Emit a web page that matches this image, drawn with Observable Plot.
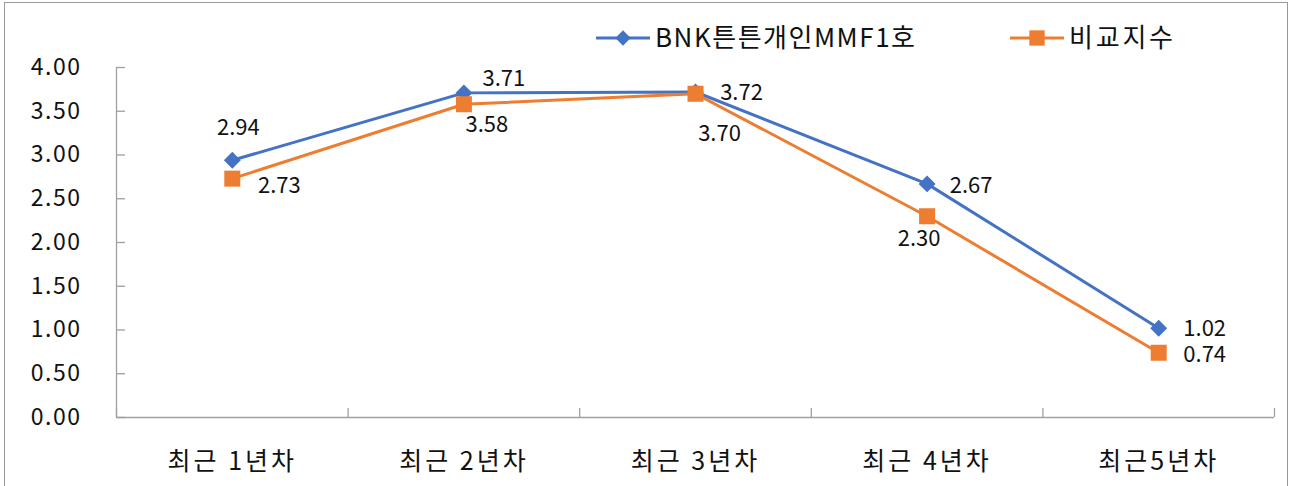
<!DOCTYPE html>
<html><head><meta charset="utf-8">
<script src="https://cdn.jsdelivr.net/npm/d3@7"></script>
<script src="https://cdn.jsdelivr.net/npm/@observablehq/plot@0.6"></script>
<style>
html,body{margin:0;padding:0;background:#fff;overflow:hidden}
#wrap{position:relative;width:1290px;height:486px;overflow:hidden;font-family:"Noto Sans CJK KR","Noto Sans",sans-serif}
#border{position:absolute;left:4px;top:2px;width:1284px;height:540px;border:1px solid #999;box-sizing:border-box;pointer-events:none}
#legend{position:absolute;left:0;top:0;width:1290px;height:70px;pointer-events:none}
#chart g[aria-label="x-axis tick label"] text{letter-spacing:3px}
#chart g[aria-label="y-axis tick label"] text{letter-spacing:1.5px}
</style></head><body>
<div id="wrap"><div id="chart"></div><svg id="legend"></svg><div id="border"></div></div>
<script>
const categories = ["최근 1년차", "최근 2년차", "최근 3년차", "최근 4년차", "최근5년차"];
const seriesNames = ["BNK튼튼개인MMF1호", "비교지수"];
const fundValues = [2.94, 3.71, 3.72, 2.67, 1.02];
const benchValues = [2.73, 3.58, 3.70, 2.30, 0.74];
const yTicks = [0, 0.5, 1, 1.5, 2, 2.5, 3, 3.5, 4];

// label offsets (styling only)
const fundLabelOffsets = [[6, -32], [40, -14], [46, 1], [44, 2], [46, 1]];
const benchLabelOffsets = [[47, 7], [23, 21], [24, 40], [-8, 23], [46, 2]];

const colors = ["#4472C4", "#ED7D31"];
const FONT = '"Noto Sans CJK KR","Noto Sans",sans-serif';

const rows = [];
categories.forEach((c, i) => {
  rows.push({series: seriesNames[0], idx: i, x: i + 0.5, value: fundValues[i], off: fundLabelOffsets[i]});
  rows.push({series: seriesNames[1], idx: i, x: i + 0.5, value: benchValues[i], off: benchLabelOffsets[i]});
});
const fundRows = rows.filter(d => d.series === seriesNames[0]);
const benchRows = rows.filter(d => d.series === seriesNames[1]);

const labelMarks = rows.map((d) => Plot.text([d], {
  x: "x", y: "value", text: v => v.value.toFixed(2),
  dx: d.off[0], dy: d.off[1], fontSize: 22, fill: "#111", fontFamily: FONT
}));

const chart = Plot.plot({
  width: 1290,
  height: 486,
  marginLeft: 116,
  marginRight: 16,
  marginTop: 67,
  marginBottom: 69,
  style: {fontFamily: FONT, background: "white", overflow: "visible"},
  x: {type: "linear", domain: [0, categories.length], axis: null},
  y: {domain: [0, 4], axis: null},
  marks: [
    Plot.ruleX([0], {y1: 0, y2: 4, stroke: "#a0a0a0", strokeWidth: 1.3}),
    Plot.ruleY([0], {stroke: "#a0a0a0", strokeWidth: 1.3}),
    Plot.axisY({ticks: yTicks, label: null, tickSize: -9, tickFormat: () => "", stroke: "#a0a0a0", strokeWidth: 1.3}),
    Plot.axisY({ticks: yTicks, label: null, tickSize: 0, tickPadding: 35, tickFormat: d => d.toFixed(2), fontSize: 23, fill: "#111", fontFamily: FONT}),
    Plot.axisX({ticks: d3.range(categories.length + 1), label: null, tickSize: -9, tickFormat: () => "", stroke: "#a0a0a0", strokeWidth: 1.3}),
    Plot.axisX({ticks: categories.map((c, i) => i + 0.5), label: null, tickSize: 0, tickPadding: 35, tickFormat: v => categories[Math.round(v - 0.5)], fontSize: 25, fill: "#111", fontFamily: FONT}),
    Plot.line(fundRows, {x: "x", y: "value", stroke: colors[0], strokeWidth: 3}),
    Plot.line(benchRows, {x: "x", y: "value", stroke: colors[1], strokeWidth: 3}),
    Plot.dot(fundRows, {x: "x", y: "value", symbol: "diamond2", r: 7.6, fill: colors[0], stroke: null}),
    Plot.dot(benchRows, {x: "x", y: "value", symbol: "square2", r: 10.2, fill: colors[1], stroke: null}),
    ...labelMarks
  ]
});
document.getElementById("chart").appendChild(chart);

// legend
const lg = d3.select("#legend");
const legendItems = [
  {name: seriesNames[0], color: colors[0], x0: 596, x1: 650, sym: d3.symbolDiamond2, size: 150, tx: 655, tw: 260},
  {name: seriesNames[1], color: colors[1], x0: 1010, x1: 1064, sym: d3.symbolSquare2, size: 300, tx: 1069, tw: 104}
];
legendItems.forEach(it => {
  const g = lg.append("g");
  g.append("line").attr("x1", it.x0).attr("x2", it.x1).attr("y1", 38).attr("y2", 38)
    .attr("stroke", it.color).attr("stroke-width", 3);
  g.append("path").attr("d", d3.symbol(it.sym, it.size)()).attr("transform", `translate(${(it.x0 + it.x1) / 2},38)`)
    .attr("fill", it.color);
  g.append("text").attr("x", it.tx).attr("y", 38).attr("dy", "0.36em").attr("font-size", 26)
    .attr("font-family", FONT).attr("fill", "#111")
    .attr("textLength", it.tw).attr("lengthAdjust", "spacing").text(it.name);
});
</script>
</body></html>
